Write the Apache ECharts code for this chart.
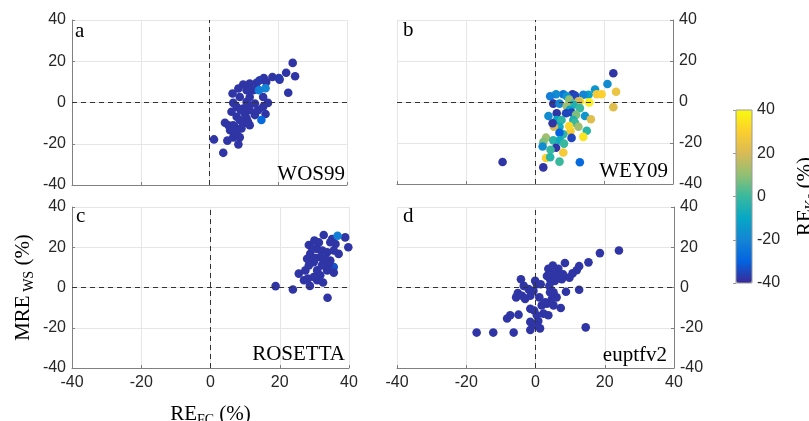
<!DOCTYPE html>
<html><head><meta charset="utf-8">
<script src="https://cdn.jsdelivr.net/npm/echarts@6/dist/echarts.min.js"></script>
<style>html,body{margin:0;padding:0;background:#fff}#c{width:809px;height:421px}</style>
</head><body><div id="c"></div>
<script>
// Each point: [RE_FC (%), MRE_WS (%), RE_Ks (%)]
const pointsWOS99 = [
[24.2,19.2,-38],[22.3,14.4,-38],[24.9,12.7,-38],[20.4,11.1,-38],[18.3,12.4,-38],[20.2,11.8,-37],[15.8,11.8,-38],[22.9,4.7,-38],
[9.8,8.7,-38],[11.7,9.2,-38],[13.7,9.5,-38],[14.6,10.8,-37],[16.5,10.0,-38],[12.7,6.0,-38],[10.8,6.0,-38],[8.4,6.8,-38],
[6.7,4.4,-38],[8.8,2.7,-38],[11.7,2.7,-38],[15.6,2.7,-38],[17.0,-0.2,-38],[6.9,-0.2,-38],[10.8,0.3,-38],[13.2,-0.5,-38],
[7.9,-2.1,-38],[9.8,-2.9,-38],[11.2,-1.3,-38],[15.6,-2.1,-38],[6.4,-4.5,-38],[9.1,-3.7,-38],[11.7,-3.7,-38],[14.1,-3.7,-38],
[16.3,-5.6,-38],[10.3,-5.3,-38],[7.9,-6.9,-38],[10.8,-7.7,-38],[13.2,-6.1,-38],[8.8,-8.5,-38],[11.2,-9.4,-38],[4.5,-9.8,-38],
[6.9,-11.0,-38],[9.8,-10.2,-38],[11.7,-11.0,-38],[5.5,-11.0,-38],[7.4,-11.8,-38],[6.0,-13.4,-38],[9.3,-12.6,-38],[7.9,-15.0,-38],
[6.9,-16.9,-38],[8.8,-16.9,-38],[5.2,-18.5,-38],[8.4,-20.3,-38],[1.3,-17.9,-38],[4.0,-24.4,-38],
[14.4,6.0,-22],[16.3,6.9,-20],[15.1,-8.5,-28]
];
const pointsWEY09 = [
[22.7,14.0,-38],[21.0,8.8,-18],[23.5,5.0,25],[22.7,-2.5,22],[17.4,6.1,-15],[17.9,3.8,28],[19.3,3.8,30],[15.5,3.5,-12],
[14.0,3.5,-20],[10.9,3.8,-38],[8.2,3.8,-25],[6.1,3.8,-18],[9.2,2.8,-15],[4.4,2.8,-22],[11.6,3.1,-35],[13.0,0.3,35],
[15.7,-0.2,38],[9.9,1.2,10],[12.6,0.3,20],[5.3,-0.8,-38],[7.1,-0.8,-20],[11.1,-1.3,-5],[9.2,-2.1,12],[13.0,-3.0,0],
[10.1,-3.8,-10],[6.3,-5.5,-38],[3.9,-6.8,-18],[9.0,-5.5,-35],[10.6,-5.1,-35],[11.9,-6.3,8],[14.5,-6.8,-15],[16.2,-8.4,22],
[6.3,-8.8,-10],[7.7,-8.8,-2],[11.1,-8.8,-5],[11.6,-10.1,0],[12.6,-12.1,12],[10.3,-14.2,28],[15.0,-14.0,-3],[7.1,-12.1,-8],
[5.5,-12.1,20],[5.1,-10.4,-38],[9.9,-11.7,32],[8.2,-15.7,-2],[7.1,-15.0,-30],[3.2,-17.4,12],[2.4,-19.5,8],[5.3,-18.7,-3],
[7.2,-18.7,-8],[10.6,-17.5,-35],[14.0,-17.0,35],[8.4,-20.3,0],[2.2,-21.7,-18],[6.1,-22.3,-38],[4.5,-23.3,0],[8.2,-24.6,28],
[3.2,-27.3,30],[4.4,-26.9,-3],[7.1,-29.1,0],[2.4,-31.9,-38],[13.0,-29.4,-28],[-9.4,-29.3,-38]
];
const pointsROSETTA = [
[18.8,0.7,-38],[23.8,-1.0,-38],[33.8,-5.1,-38],[39.8,20.0,-38],[38.9,24.9,-38],[37.0,16.7,-38],[35.6,10.2,-33],[32.5,2.5,-38],
[28.7,0.8,-38],[27.0,3.6,-38],[25.5,6.9,-38],[28.4,21.1,-38],[32.7,26.1,-38],[30.0,23.3,-38],[34.6,22.5,-38],[30.8,19.2,-38],
[33.7,17.5,-38],[28.8,16.7,-38],[31.7,15.1,-38],[29.8,12.6,-38],[32.7,12.6,-38],[34.6,13.4,-38],[28.4,11.0,-38],[30.8,8.5,-38],
[33.7,8.5,-38],[29.8,5.2,-38],[31.7,6.1,-38],[27.4,8.5,-38],[35.1,24.1,-38],[36.1,21.6,-38],[31.3,22.4,-38],[29.4,19.2,-38],
[32.3,18.4,-38],[35.6,18.4,-38],[33.2,14.3,-38],[30.3,14.6,-38],[27.9,14.3,-38],[34.1,11.0,-38],[35.6,7.4,-38],[30.8,3.6,-38],
[28.1,4.4,-38],[32.2,11.0,-38],[36.7,25.7,-22]
];
const pointsEUPTFV2 = [
[24.1,18.4,-38],[18.6,17.1,-38],[15.3,12.5,-38],[12.6,10.6,-38],[11.9,8.6,-38],[10.7,7.0,-38],[9.8,4.9,-38],[8.5,12.2,-38],
[6.6,9.3,-38],[5.0,10.9,-38],[3.7,9.3,-38],[5.2,7.0,-38],[6.6,5.7,-38],[4.2,4.1,-38],[8.0,6.5,-38],[5.6,3.3,-38],
[4.0,0.8,-38],[12.6,-1.1,-38],[8.8,-2.1,-38],[5.2,-2.4,-38],[6.1,-4.9,-38],[4.7,-5.7,-38],[1.1,-4.9,-38],[3.3,-8.1,-38],
[1.8,-8.9,-38],[5.2,-8.9,-38],[7.3,-10.2,-38],[3.7,-13.8,-38],[2.3,-13.0,-38],[0.4,1.6,-38],[-0.1,3.3,-38],[1.5,1.6,-38],
[-0.6,-1.6,-38],[-2.0,-0.8,-38],[-3.4,0.8,-38],[-4.2,4.1,-38],[-5.1,-2.8,-38],[-5.6,-4.9,-38],[-3.9,-4.1,-38],[-3.0,-5.7,-38],
[-1.5,-4.1,-38],[-4.9,-13.5,-38],[-7.3,-13.8,-38],[-8.2,-15.4,-38],[-1.5,-10.6,-38],[-0.4,-11.4,-38],[0.4,-13.8,-38],[-1.5,-17.1,-38],
[0.8,-16.7,-38],[-0.1,-18.7,-38],[-1.5,-21.1,-38],[1.3,-20.3,-38],[-6.3,-22.4,-38],[-12.2,-22.4,-38],[-17.0,-22.4,-38],[14.5,-19.8,-38],
[7.6,4.1,-38],[3.3,5.7,-38],[4.2,-2.4,-38],[2.8,-7.3,-38]
];
const panelLetters = ['a','b','c','d'];
const modelNames = ['WOS99','WEY09','ROSETTA','euptfv2'];
const axisTicks = [-40,-20,0,20,40];
const colorTicks = [-40,-20,0,20,40];
const parula = ['#3a2996','#0363e1','#1485d4','#06a7c6','#38b99e','#92bf73','#d9ba56','#fcce2e','#f9fb0e'];

const SANS = '"Liberation Sans", Arial, sans-serif';
const SERIF = '"Liberation Serif", "Times New Roman", serif';
const AX = '#808080', GRIDC = '#e6e6e6', TXT = '#262626';

const grids = [
  {left:72, top:20, width:275, height:165, outerBoundsMode:'none'},
  {left:397, top:20, width:276, height:164, outerBoundsMode:'none'},
  {left:72, top:207, width:277, height:161, outerBoundsMode:'none'},
  {left:397, top:207, width:277, height:161, outerBoundsMode:'none'},
  {left:736, top:110, width:16, height:173, show:true, borderColor:'#9a9a9a', borderWidth:1, z:6, outerBoundsMode:'none'}
];
const rich = {
  m:{fontFamily:SERIF, fontSize:21, color:'#000', lineHeight:26},
  s:{fontFamily:SERIF, fontSize:14, color:'#000', lineHeight:14, verticalAlign:'bottom'}
};
function xAx(i, showLabel, name){
  const a = {type:'value', gridIndex:i, min:axisTicks[0], max:axisTicks[axisTicks.length-1], interval:20,
    axisLine:{show:true, onZero:false, lineStyle:{color:AX, width:1}},
    axisTick:{show:true, inside:true, length:3, lineStyle:{color:AX}},
    splitLine:{show:true, lineStyle:{color:GRIDC, width:1}},
    axisLabel:{show:showLabel, fontSize:16, color:TXT, fontFamily:SANS, margin:7}};
  if(name){a.name=name; a.nameLocation='middle'; a.nameGap=33; a.nameTextStyle={rich:rich};}
  return a;
}
function yAx(i, pos, name){
  const a = {type:'value', gridIndex:i, position:pos, min:axisTicks[0], max:axisTicks[axisTicks.length-1], interval:20,
    axisLine:{show:true, onZero:false, lineStyle:{color:AX, width:1}},
    axisTick:{show:true, inside:true, length:3, lineStyle:{color:AX}},
    splitLine:{show:true, lineStyle:{color:GRIDC, width:1}},
    axisLabel:{show:true, fontSize:16, color:TXT, fontFamily:SANS, margin:6}};
  if(name){a.name=name; a.nameLocation='middle'; a.nameGap=36; a.nameRotate=90; a.nameTextStyle={rich:rich};}
  return a;
}
const xAxes = [xAx(0,false), xAx(1,false), xAx(2,true,'{m|RE}{s|FC}{m| (%)}'), xAx(3,true),
  {type:'value', gridIndex:4, min:0, max:1, show:false}];
const yAxes = [yAx(0,'left'), yAx(1,'right'), yAx(2,'left','{m|MRE}{s| WS}{m| (%)}'), yAx(3,'right'),
  {type:'value', gridIndex:4, position:'right', min:colorTicks[0], max:colorTicks[colorTicks.length-1], interval:20,
   axisLine:{show:false}, axisTick:{show:true, inside:true, length:3, lineStyle:{color:'#9a9a9a'}}, splitLine:{show:false},
   axisLabel:{fontSize:16, color:TXT, fontFamily:SANS, margin:5},
   name:'{m|RE}{s|Ks}{m| (%)}', nameLocation:'middle', nameGap:40, nameRotate:90, nameTextStyle:{rich:rich}}];

const datasets = [pointsWOS99, pointsWEY09, pointsROSETTA, pointsEUPTFV2];
const series = datasets.map((d,i)=>({
  type:'scatter', xAxisIndex:i, yAxisIndex:i, data:d, symbolSize:8.6, itemStyle:{opacity:1},
  markLine:{silent:true, symbol:['none','none'], label:{show:false}, animation:false,
    lineStyle:{type:[5,4], color:'#333', width:1}, data:[{xAxis:0},{yAxis:0}]}
}));

const letterPos = [[75,31],[403,30.5],[76,216],[403,216]];
const namePos = [[345,174.5],[668,171],[345,354],[667,355]];
const graphic = [];
panelLetters.forEach((t,i)=>graphic.push({type:'text', x:letterPos[i][0], y:letterPos[i][1], z:10,
  style:{text:t, font:'21px '+SERIF, fill:'#000', verticalAlign:'middle', align:'left'}}));
modelNames.forEach((t,i)=>graphic.push({type:'text', x:namePos[i][0], y:namePos[i][1], z:10,
  style:{text:t, font:'21px '+SERIF, fill:'#000', verticalAlign:'middle', align:'right'}}));

const chart = echarts.init(document.getElementById('c'), null, {renderer:'canvas'});
chart.setOption({
  animation:false,
  backgroundColor:'#fff',
  grid:grids, xAxis:xAxes, yAxis:yAxes, series:series, graphic:graphic,
  visualMap:{type:'continuous', min:colorTicks[0], max:colorTicks[colorTicks.length-1], dimension:2, seriesIndex:[0,1,2,3],
    inRange:{color:parula}, calculable:false, hoverLink:false, left:736, top:110, itemWidth:16, itemHeight:173,
    padding:0, text:null, showLabel:false, orient:'vertical'}
});
</script></body></html>
